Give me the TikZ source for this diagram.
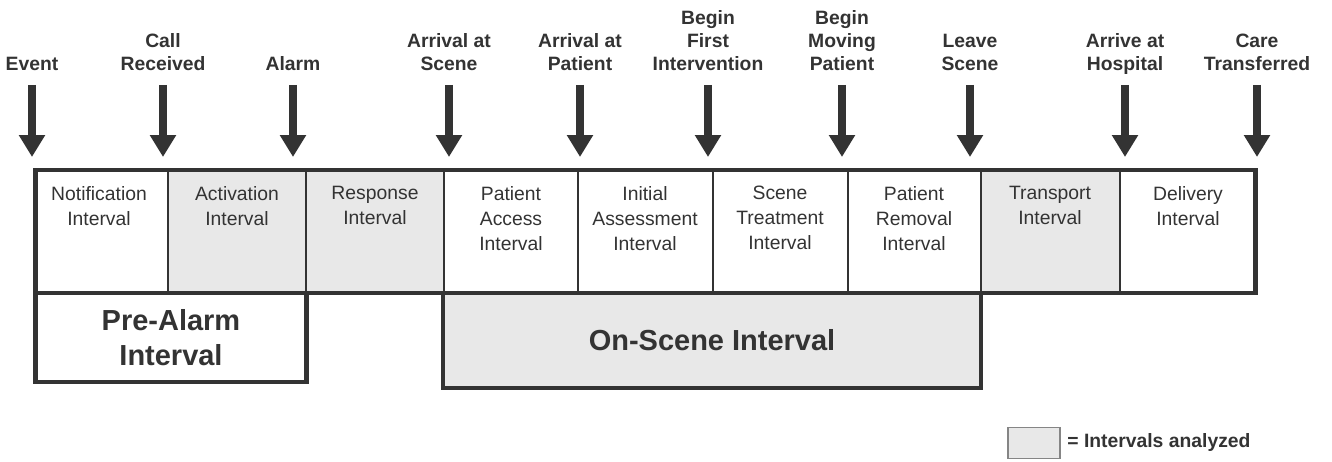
\documentclass[tikz,border=0pt]{standalone}
\usepackage{fontspec}
\setmainfont{Liberation Sans}
\usetikzlibrary{arrows.meta}
\definecolor{ink}{HTML}{333333}
\definecolor{cellgray}{HTML}{E8E8E8}

\begin{document}
\begin{tikzpicture}[x=0.02cm,y=-0.02cm,
  evlabel/.style={anchor=south,align=center,inner xsep=0pt,inner ysep=0.28cm,text depth=0pt,
    font=\fontsize{11}{13.1}\selectfont\bfseries,text=ink},
  evarrow/.style={draw=ink,line width=0.16cm,-{Triangle[width=0.5cm,length=0.44cm]}},
  cell/.style={anchor=north,align=center,inner sep=0pt,font=\fontsize{11}{14.2}\selectfont,text=ink},
  phase/.style={align=center,font=\fontsize{16.5}{19.9}\selectfont\bfseries,text=ink},
  frame/.style={draw=ink,line width=2.8pt,line join=miter},
  divider/.style={draw=ink,line width=1.1pt},
  keybox/.style={draw=ink!60,fill=cellgray,line width=0.8pt,minimum width=1.04cm,minimum height=0.62cm,inner sep=0pt}]
\useasboundingbox (0,0) rectangle (1332,462);
% event labels
\node[evlabel] (event) at (32,85) {Event};
\node[evlabel] (call) at (163,85) {Call\\Received};
\node[evlabel] (alarm) at (293,85) {Alarm};
\node[evlabel] (scene) at (449,85) {Arrival at\\Scene};
\node[evlabel] (patient) at (580,85) {Arrival at\\Patient};
\node[evlabel] (firstint) at (708,85) {Begin\\First\\Intervention};
\node[evlabel] (moving) at (842,85) {Begin\\Moving\\Patient};
\node[evlabel] (leave) at (970,85) {Leave\\Scene};
\node[evlabel] (hospital) at (1125,85) {Arrive at\\Hospital};
\node[evlabel] (transfer) at (1257,85) {Care\\Transferred};
\coordinate (eventtip) at (32,157);
\coordinate (calltip) at (163,157);
\coordinate (alarmtip) at (293,157);
\coordinate (scenetip) at (449,157);
\coordinate (patienttip) at (580,157);
\coordinate (firstinttip) at (708,157);
\coordinate (movingtip) at (842,157);
\coordinate (leavetip) at (970,157);
\coordinate (hospitaltip) at (1125,157);
\coordinate (transfertip) at (1257,157);
\draw[evarrow] (event.south) -- (eventtip);
\draw[evarrow] (call.south) -- (calltip);
\draw[evarrow] (alarm.south) -- (alarmtip);
\draw[evarrow] (scene.south) -- (scenetip);
\draw[evarrow] (patient.south) -- (patienttip);
\draw[evarrow] (firstint.south) -- (firstinttip);
\draw[evarrow] (moving.south) -- (movingtip);
\draw[evarrow] (leave.south) -- (leavetip);
\draw[evarrow] (hospital.south) -- (hospitaltip);
\draw[evarrow] (transfer.south) -- (transfertip);
% shaded intervals
\fill[cellgray] (168,170) rectangle (306,293);
\fill[cellgray] (306,170) rectangle (444,293);
\fill[cellgray] (981,170) rectangle (1120,293);
\draw[divider] (168,170) -- (168,293);
\draw[divider] (306,170) -- (306,293);
\draw[divider] (444,170) -- (444,293);
\draw[divider] (578,170) -- (578,293);
\draw[divider] (713,170) -- (713,293);
\draw[divider] (848,170) -- (848,293);
\draw[divider] (981,170) -- (981,293);
\draw[divider] (1120,170) -- (1120,293);
\node[cell] (notif) at (99,186) {Notification\\Interval};
\node[cell] (activ) at (237,186) {Activation\\Interval};
\node[cell] (resp) at (375,186) {Response\\Interval};
\node[cell] (access) at (511,186) {Patient\\Access\\Interval};
\node[cell] (assess) at (645,186) {Initial\\Assessment\\Interval};
\node[cell] (treat) at (780,186) {Scene\\Treatment\\Interval};
\node[cell] (removal) at (914,186) {Patient\\Removal\\Interval};
\node[cell] (transport) at (1050,186) {Transport\\Interval};
\node[cell] (delivery) at (1188,186) {Delivery\\Interval};
% phase boxes
\fill[cellgray] (443,293) rectangle (981,388);
\draw[frame] (35.5,293) -- (35.5,382) -- (306.5,382) -- (306.5,293);
\draw[frame] (443,293) -- (443,388) -- (981,388) -- (981,293);
\draw[frame] (35.5,170) rectangle (1255.5,293);
\node[phase] (prealarm) at (171,338) {Pre-Alarm\\Interval};
\node[phase] (onscene) at (712,340) {On-Scene Interval};
% key
\node[keybox] (key) at (1034,443) {};
\node[anchor=west,inner sep=0pt,font=\fontsize{11}{13}\selectfont\bfseries,text=ink] (keytext) at (1067,443) {= Intervals analyzed};
\end{tikzpicture}
\end{document}
